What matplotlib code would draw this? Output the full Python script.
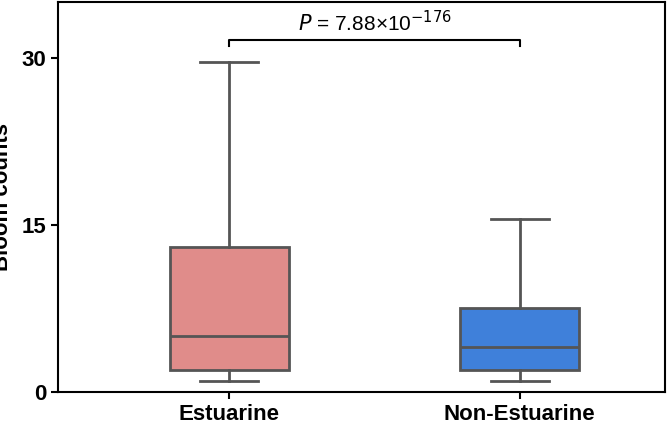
import matplotlib
matplotlib.use("Agg")
import matplotlib.pyplot as plt

plt.rcParams["font.family"] = "Liberation Sans"

categories = ["Estuarine", "Non-Estuarine"]
whislo = [1.0, 1.0]
q1 = [2.0, 2.0]
med = [5.0, 4.0]
q3 = [13.0, 7.5]
whishi = [29.6, 15.5]
colors = ["#E08C8A", "#3F80DA"]
p_label = r"$P$ = 7.88×10$^{-176}$"

fig = plt.figure(figsize=(6.67, 4.33), dpi=100)
ax = fig.add_axes([0.087, 0.095, 0.91, 0.90])

stats = [dict(label=c, whislo=lo, q1=a, med=m, q3=b, whishi=hi, fliers=[])
         for c, lo, a, m, b, hi in zip(categories, whislo, q1, med, q3, whishi)]
line = dict(color="#555555", linewidth=2)
bp = ax.bxp(stats, positions=[0, 1], widths=0.41, patch_artist=True,
            boxprops=line, medianprops=line, whiskerprops=line, capprops=line)
for patch, c in zip(bp["boxes"], colors):
    patch.set_facecolor(c)
for cap in bp["caps"]:
    cap.set_xdata([cap.get_xdata().mean() - 0.1, cap.get_xdata().mean() + 0.1])

ax.set_xlim(-0.59, 1.50)
ax.set_ylim(0, 35)
ax.set_yticks([0, 15, 30])
ax.set_ylabel("Bloom counts", fontsize=16, fontweight="bold")
ax.yaxis.set_label_coords(-0.075, 0.5)
ax.tick_params(axis="both", labelsize=16, width=1.5, length=5)
for lab in ax.get_xticklabels() + ax.get_yticklabels():
    lab.set_fontweight("bold")
for s in ax.spines.values():
    s.set_linewidth(1.5)

ax.plot([0, 0, 1, 1], [31.1, 31.6, 31.6, 31.1], color="black", lw=1.5)
ax.text(0.5, 32.0, p_label, ha="center", va="bottom", fontsize=15)

fig.savefig("out.png", dpi=100)
